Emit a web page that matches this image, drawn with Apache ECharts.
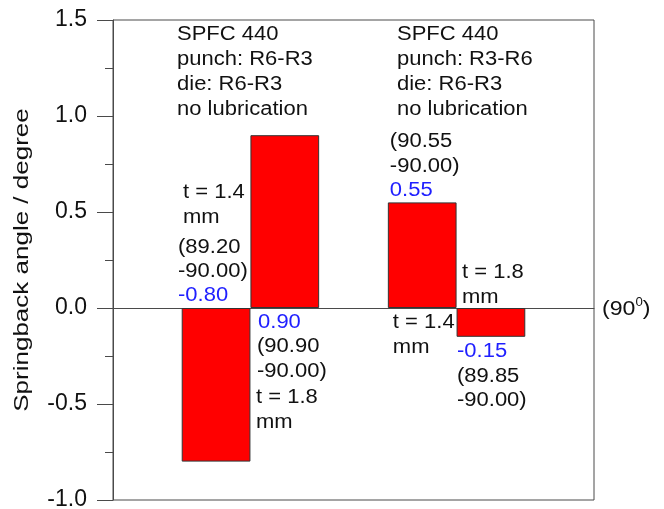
<!DOCTYPE html>
<html>
<head>
<meta charset="utf-8">
<style>
  html, body { margin: 0; padding: 0; background: #fff; }
  #chart { width: 664px; height: 509px; }
</style>
<script src="https://cdn.jsdelivr.net/npm/echarts@6/dist/echarts.min.js"></script>
</head>
<body>
<div id="chart"></div>
<script>
// Bar slots along the x axis (empty slots give the spacing between the two set-ups)
const slots = ['', 'A t1.4', 'A t1.8', '', 'B t1.4', 'B t1.8', ''];
// Springback angle (degree) = measured angle - 90.00
const springback = [null, -0.80, 0.90, null, 0.55, -0.15, null];
// Sheet thickness (mm) for each bar
const thickness = [null, '1.4', '1.8', null, '1.4', '1.8', null];

// Tool set-ups, one per group of bars
const setupSlot = [1, 4];
const material = ['SPFC 440', 'SPFC 440'];
const punch = ['R6-R3', 'R3-R6'];
const die = ['R6-R3', 'R6-R3'];
const lubrication = ['no lubrication', 'no lubrication'];

// Y axis scale
const yMin = -1.0;
const yMax = 1.5;
const yStep = 0.5;

const FONT = '"Liberation Sans", Arial, Helvetica, sans-serif';
const INK = '#111111';
const LINE = '#4a4a4a';
const VALUE_BLUE = '#1f1fff';

const chart = echarts.init(document.getElementById('chart'), null, { renderer: 'canvas' });

chart.setOption({
  animation: false,
  grid: {
    left: 113, right: 70, top: 20, bottom: 9,
    outerBoundsMode: 'none',
    show: true, borderColor: LINE, borderWidth: 1, backgroundColor: 'transparent'
  },
  xAxis: {
    type: 'category',
    data: slots,
    axisLine: { onZero: true, lineStyle: { color: LINE, width: 1 } },
    axisTick: { show: false },
    axisLabel: { show: false },
    splitLine: { show: false }
  },
  yAxis: {
    type: 'value',
    min: yMin, max: yMax, interval: yStep,
    axisLine: { show: true, lineStyle: { color: LINE, width: 1 } },
    axisTick: { show: true, inside: false, length: 16, lineStyle: { color: LINE, width: 1 } },
    minorTick: { show: true, splitNumber: 2, length: 8, lineStyle: { color: LINE, width: 1 } },
    axisLabel: {
      fontSize: 23, color: INK, fontFamily: FONT, margin: 26,
      formatter: v => v.toFixed(1)
    },
    splitLine: { show: false }
  },
  series: [{
    type: 'bar',
    data: springback,
    barWidth: '100%',
    barCategoryGap: '0%',
    itemStyle: { color: '#ff0000', borderColor: '#333333', borderWidth: 1 }
  }]
});

// ---- annotation text, anchored to the axes through convertToPixel ----
const toPx = (slot, value) => chart.convertToPixel({ xAxisIndex: 0, yAxisIndex: 0 }, [slot, value]);
const half = (toPx(1, 0)[0] - toPx(0, 0)[0]) / 2;
const slotLeft = s => toPx(s, 0)[0] - half;
const yPx = v => toPx(0, v)[1];

// plain text block placed by the baseline of its first line
function block(x, baseline, lines, opt) {
  opt = opt || {};
  const fs = opt.size || 20;
  const lh = opt.lh || 25;
  return {
    type: 'text', silent: true,
    x: x, y: baseline - 0.35 * fs - lh / 2, scaleX: 1.1,
    style: {
      text: lines.join('\n'), fontSize: fs, fontFamily: FONT,
      fill: opt.color || INK, lineHeight: lh, align: 'left', verticalAlign: 'top'
    }
  };
}

const angleLines = v => ['(' + (90 + v).toFixed(2), '-90.00)'];
const fmt = v => v.toFixed(2);
const tLines = t => ['t = ' + t, 'mm'];

const g = [];

// set-up descriptions at the top of each group
const setupDx = [-4.7, 9.1];
setupSlot.forEach((s, i) => {
  g.push(block(slotLeft(s) + setupDx[i], yPx(yMax) + 21.7,
    [material[i], 'punch: ' + punch[i], 'die: ' + die[i], lubrication[i]]));
});

const zero = yPx(0);

// slot 1: negative bar, labels above the zero line
{
  const s = 1, v = springback[s], x = slotLeft(s);
  g.push(block(x + 1.3, zero - 108.3, tLines(thickness[s])));
  g.push(block(x - 3.7, zero - 53.3, angleLines(v), { lh: 24 }));
  g.push(block(x - 3.7, zero - 5.3, [fmt(v)], { color: VALUE_BLUE }));
}
// slot 2: positive bar, labels below the zero line
{
  const s = 2, v = springback[s], x = slotLeft(s);
  g.push(block(x + 7.6, zero + 21.7, [fmt(v)], { color: VALUE_BLUE }));
  g.push(block(x + 6.6, zero + 45.7, angleLines(v)));
  g.push(block(x + 5.6, zero + 96.7, tLines(thickness[s])));
}
// slot 4: positive bar, value above its top, thickness below zero
{
  const s = 4, v = springback[s], x = slotLeft(s), end = yPx(v);
  g.push(block(x + 2, end - 54.4, angleLines(v)));
  g.push(block(x + 2, end - 5.4, [fmt(v)], { color: VALUE_BLUE }));
  g.push(block(x + 5, zero + 21.7, tLines(thickness[s])));
}
// slot 5: negative bar, value below its end, thickness above zero
{
  const s = 5, v = springback[s], x = slotLeft(s), end = yPx(v);
  g.push(block(x + 5.4, zero - 28.3, tLines(thickness[s])));
  g.push(block(x + 0.4, end + 21.9, [fmt(v)], { color: VALUE_BLUE }));
  g.push(block(x + 0.4, end + 46.9, angleLines(v), { lh: 24 }));
}

// reference angle at the right end of the zero line
{
  const right = toPx(slots.length - 1, 0)[0] + half;
  g.push({
    type: 'text', silent: true,
    x: right + 8, y: zero + 8.4 - 0.35 * 21 - 12, scaleX: 1.1,
    style: {
      text: '(90{s|0})', fontSize: 21, fontFamily: FONT, fill: INK,
      lineHeight: 24, align: 'left', verticalAlign: 'top',
      rich: { s: { fontSize: 12, fontFamily: FONT, fill: INK, verticalAlign: 'top', lineHeight: 24 } }
    }
  });
}

// y axis title, stretched along its reading direction
g.push({
  type: 'text', silent: true,
  x: 22, y: yPx((yMin + yMax) / 2), rotation: Math.PI / 2, scaleX: 1.3,
  style: {
    text: 'Springback angle / degree', fontSize: 20, fontFamily: FONT, fill: INK,
    align: 'center', verticalAlign: 'middle'
  }
});

chart.setOption({ graphic: g });
</script>
</body>
</html>
